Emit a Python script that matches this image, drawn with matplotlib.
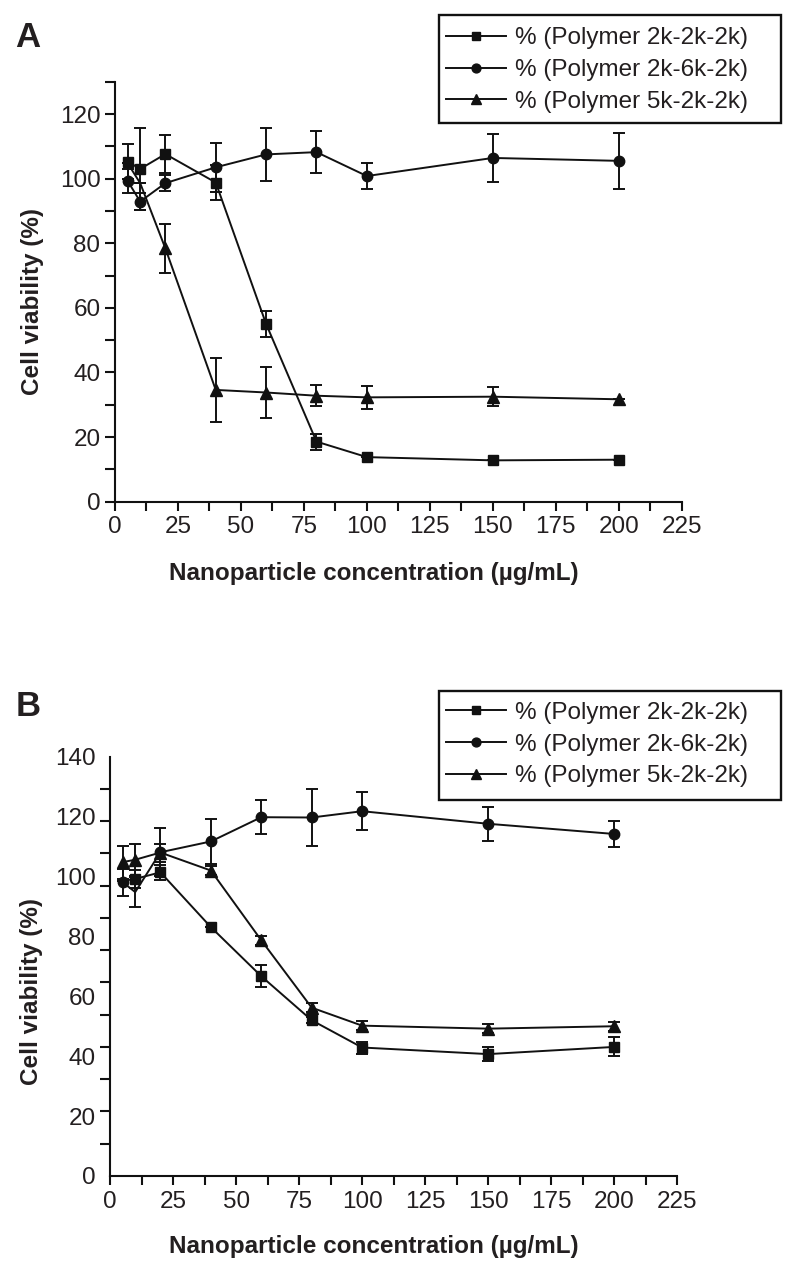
import numpy as np
import matplotlib
matplotlib.use("Agg")
import matplotlib.pyplot as plt
from matplotlib.patches import Rectangle

plt.rcParams['font.family'] = ['Liberation Sans', 'DejaVu Sans']

# ---------------- data ----------------
conc = [5, 10, 20, 40, 60, 80, 100, 150, 200]
labels = ['% (Polymer 2k-2k-2k)', '% (Polymer 2k-6k-2k)', '% (Polymer 5k-2k-2k)']

# Panel A
a_222 = [105.3, 103.0, 107.6, 98.8, 55.0, 18.6, 13.8, 12.8, 13.0]
a_222_err = [5.5, 12.7, 6.0, 5.5, 4.0, 2.5, 0, 0, 0]
a_262 = [99.3, 92.9, 98.6, 103.5, 107.5, 108.2, 100.8, 106.4, 105.5]
a_262_err = [3.8, 2.7, 2.5, 7.5, 8.3, 6.6, 4.0, 7.5, 8.6]
a_522 = [104.8, 98.6, 78.4, 34.6, 33.8, 32.8, 32.3, 32.5, 31.7]
a_522_err = [0, 0, 7.6, 10.0, 8.0, 3.2, 3.5, 3.0, 0]

# Panel B
b_222 = [98.5, 99.2, 101.4, 83.1, 66.7, 52.0, 42.9, 40.7, 43.1]
b_222_err = [0, 3.0, 2.5, 0, 3.6, 1.0, 2.0, 2.4, 3.2]
b_262 = [98.1, 94.8, 108.1, 111.7, 119.8, 119.7, 121.8, 117.6, 114.2]
b_262_err = [4.5, 5.0, 8.0, 7.6, 5.7, 9.5, 6.3, 5.7, 4.4]
b_522 = [104.8, 105.6, 108.0, 102.0, 78.7, 56.2, 50.2, 49.2, 50.0]
b_522_err = [5.5, 5.3, 3.0, 1.5, 1.5, 1.5, 1.5, 1.5, 1.5]

x_ticks = [0, 25, 50, 75, 100, 125, 150, 175, 200, 225]
a_yticks = [0, 20, 40, 60, 80, 100, 120]
b_yticks = [0, 20, 40, 60, 80, 100, 120, 140]

TXT = '#231f20'
LC = '#111111'
FS = 17.5

fig = plt.figure(figsize=(7.97, 12.74), dpi=100)
W, H = 797, 1274


def axes_px(l, r, t, b):
    return fig.add_axes([l / W, 1 - b / H, (r - l) / W, (b - t) / H])


axA = axes_px(115, 681.7, 81.7, 501.7)
axB = axes_px(110, 677.3, 756.7, 1176)

markers = ['s', 'o', '^']
msizes = [7, 7.5, 8.5]
allpts = list(range(len(conc)))


def draw(ax, series, errs, hidden):
    handles = []
    for ys, es, m, ms, hid in zip(series, errs, markers, msizes, hidden):
        ax.errorbar(conc, ys, yerr=es, fmt='none', ecolor=LC, elinewidth=1.4,
                    capsize=4, capthick=1.4, zorder=2, clip_on=False)
        shown = [i for i in allpts if i not in hid]
        h, = ax.plot(conc, ys, color=LC, lw=1.4, marker=m, ms=ms, mfc=LC,
                     mec=LC, zorder=3, clip_on=False, markevery=shown)
        handles.append(h)
    return handles


hA = draw(axA, [a_222, a_262, a_522], [a_222_err, a_262_err, a_522_err],
          [[], [], [0, 1]])
hB = draw(axB, [b_222, b_262, b_522], [b_222_err, b_262_err, b_522_err],
          [[0], [1], []])

for ax in (axA, axB):
    for s in ('top', 'right'):
        ax.spines[s].set_visible(False)
    for s in ('left', 'bottom'):
        ax.spines[s].set_linewidth(1.5)
        ax.spines[s].set_color(LC)
    ax.set_xlim(0, 225)
    ax.set_xticks(x_ticks)
    ax.set_xticks(np.arange(12.5, 225, 25), minor=True)
    ax.tick_params(axis='x', which='both', direction='out', length=6.5,
                   width=1.5, color=LC, labelsize=FS, labelcolor=TXT, pad=4)
    ax.set_xlabel('Nanoparticle concentration (µg/mL)', fontsize=FS,
                  fontweight='bold', color=TXT, va='center')
    ax.set_ylabel('Cell viability (%)', fontsize=FS, fontweight='bold',
                  color=TXT, va='center')

# Panel A y axis
axA.set_ylim(0, 130)
axA.set_yticks(a_yticks)
axA.set_yticks(np.arange(10, 131, 20), minor=True)
axA.tick_params(axis='y', which='both', direction='out', length=7.5,
                width=1.5, color=LC, labelsize=FS, labelcolor=TXT, pad=3)

# Panel B y axis: labels evenly spaced, tick marks at 14 evenly spaced positions
axB.set_ylim(0, 140)
axB.set_yticks(b_yticks)
axB.set_yticks(np.linspace(0, 140, 14), minor=True)
axB.tick_params(axis='y', which='major', direction='out', length=0,
                labelsize=FS, labelcolor=TXT, pad=3 + 7.5)
axB.tick_params(axis='y', which='minor', direction='out', length=7.5,
                width=1.5, color=LC)

axA.xaxis.set_label_coords((374 - 115) / 566.7, (501.7 - 574) / 420)
axB.xaxis.set_label_coords((374 - 110) / 567.3, (1176 - 1246) / 419.3)
axA.yaxis.set_label_coords((32.5 - 115) / 566.7, (501.7 - 301.5) / 420)
axB.yaxis.set_label_coords((32 - 110) / 567.3, (1176 - 991.7) / 419.3)

# legends: content anchored at handle start, box drawn as a separate frame
for ax, h, cy, box in ((axA, hA, 70, (439, 15, 781, 123)),
                       (axB, hB, 744.5, (439, 691, 781, 800))):
    leg = ax.legend(h, labels, loc='center left', bbox_to_anchor=(446 / W, 1 - cy / H),
                    bbox_transform=fig.transFigure, fontsize=FS,
                    frameon=False, borderaxespad=0, borderpad=0,
                    handlelength=2.45, handletextpad=0.4, labelspacing=0.4,
                    markerscale=0.85)
    for t in leg.get_texts():
        t.set_color(TXT)
    x0, y0, x1, y1 = box
    fig.patches.append(Rectangle((x0 / W, 1 - y1 / H), (x1 - x0) / W, (y1 - y0) / H,
                                 transform=fig.transFigure, fill=False,
                                 edgecolor=LC, linewidth=1.7))

fig.text(15 / W, 1 - 47 / H, 'A', fontsize=25, fontweight='bold', color=TXT,
         ha='left', va='baseline')
fig.text(16 / W, 1 - 716 / H, 'B', fontsize=25, fontweight='bold', color=TXT,
         ha='left', va='baseline')

fig.savefig('out.png', dpi=100)
